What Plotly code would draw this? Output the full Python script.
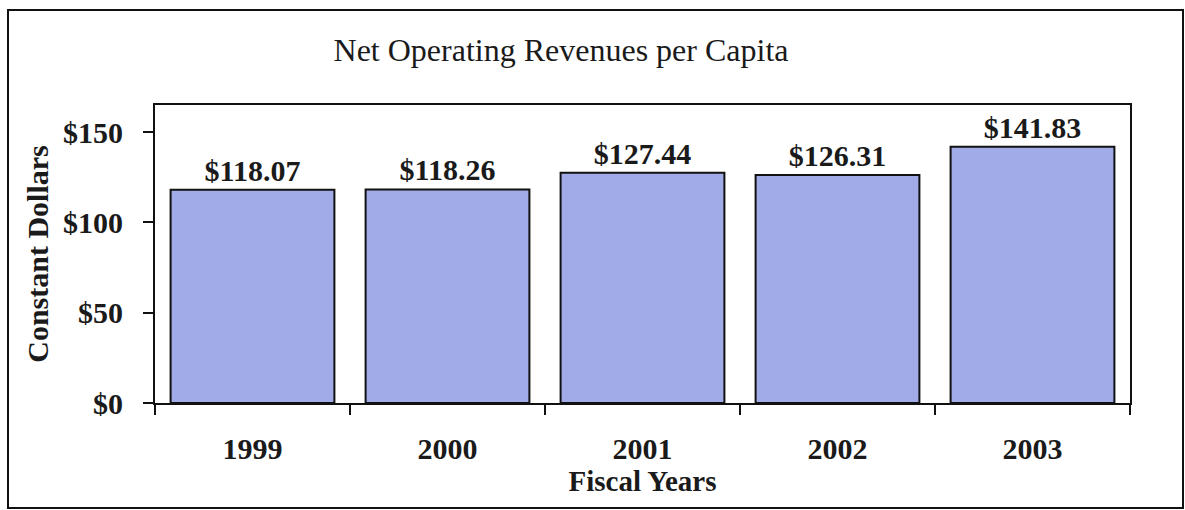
import plotly.graph_objects as go

# Net operating revenues per capita, constant dollars
fiscal_years = ["1999", "2000", "2001", "2002", "2003"]
revenue_per_capita = [118.07, 118.26, 127.44, 126.31, 141.83]
y_tick_values = [0, 50, 100, 150]
y_tick_labels = ["$0", "$50", "$100", "$150"]

value_labels = [f"${v:,.2f}" for v in revenue_per_capita]

SERIF = "Liberation Serif"
W, H = 1185, 510
M_L, M_R, M_T, M_B = 155, 55, 105, 107

fig = go.Figure(
    go.Bar(
        x=fiscal_years,
        y=revenue_per_capita,
        text=value_labels,
        textposition="outside",
        textfont=dict(family=SERIF, size=30, color="#1a1a1a", weight="bold"),
        marker=dict(color="#a0abe8", line=dict(color="#111111", width=2)),
        cliponaxis=False,
        hoverinfo="skip",
    )
)

fig.update_layout(
    width=W,
    height=H,
    autosize=False,
    margin=dict(l=M_L, r=M_R, t=M_T, b=M_B),
    paper_bgcolor="white",
    plot_bgcolor="white",
    bargap=0.16,
    showlegend=False,
    title=dict(
        text="Net Operating Revenues per Capita",
        font=dict(family=SERIF, size=32, color="#1a1a1a"),
        x=561 / W,
        xanchor="center",
        xref="container",
        y=1 - 50 / H,
        yanchor="middle",
        yref="container",
    ),
)

fig.update_xaxes(
    type="category",
    tickson="boundaries",
    ticks="outside",
    ticklen=10,
    tickwidth=2,
    tickcolor="#111111",
    showline=True,
    linecolor="#111111",
    linewidth=2,
    mirror=True,
    showgrid=False,
    tickfont=dict(family=SERIF, size=30, color="#1a1a1a", weight="bold"),
    ticklabelstandoff=18,
    title=dict(
        text="Fiscal Years",
        font=dict(family=SERIF, size=29, color="#1a1a1a", weight="bold"),
        standoff=4,
    ),
)

fig.update_yaxes(
    range=[0, 165],
    tickvals=y_tick_values,
    ticktext=y_tick_labels,
    ticks="outside",
    ticklen=10,
    tickwidth=2,
    tickcolor="#111111",
    showline=True,
    linecolor="#111111",
    linewidth=2,
    mirror=True,
    showgrid=False,
    zeroline=False,
    tickfont=dict(family=SERIF, size=30, color="#1a1a1a", weight="bold"),
    ticklabelstandoff=14,
    title=dict(
        text="Constant Dollars",
        font=dict(family=SERIF, size=30, color="#1a1a1a", weight="bold"),
        standoff=6,
    ),
)

# Outer frame around the whole chart
pw, ph = W - M_L - M_R, H - M_T - M_B
def px_to_paper_x(px):
    return (px - M_L) / pw

def px_to_paper_y(py):
    return (H - M_B - py) / ph

fig.add_shape(
    type="rect",
    xref="paper",
    yref="paper",
    x0=px_to_paper_x(8),
    x1=px_to_paper_x(1183),
    y0=px_to_paper_y(508),
    y1=px_to_paper_y(10),
    line=dict(color="#111111", width=2),
    fillcolor="rgba(0,0,0,0)",
    layer="below",
)

fig.write_html("out.html")
